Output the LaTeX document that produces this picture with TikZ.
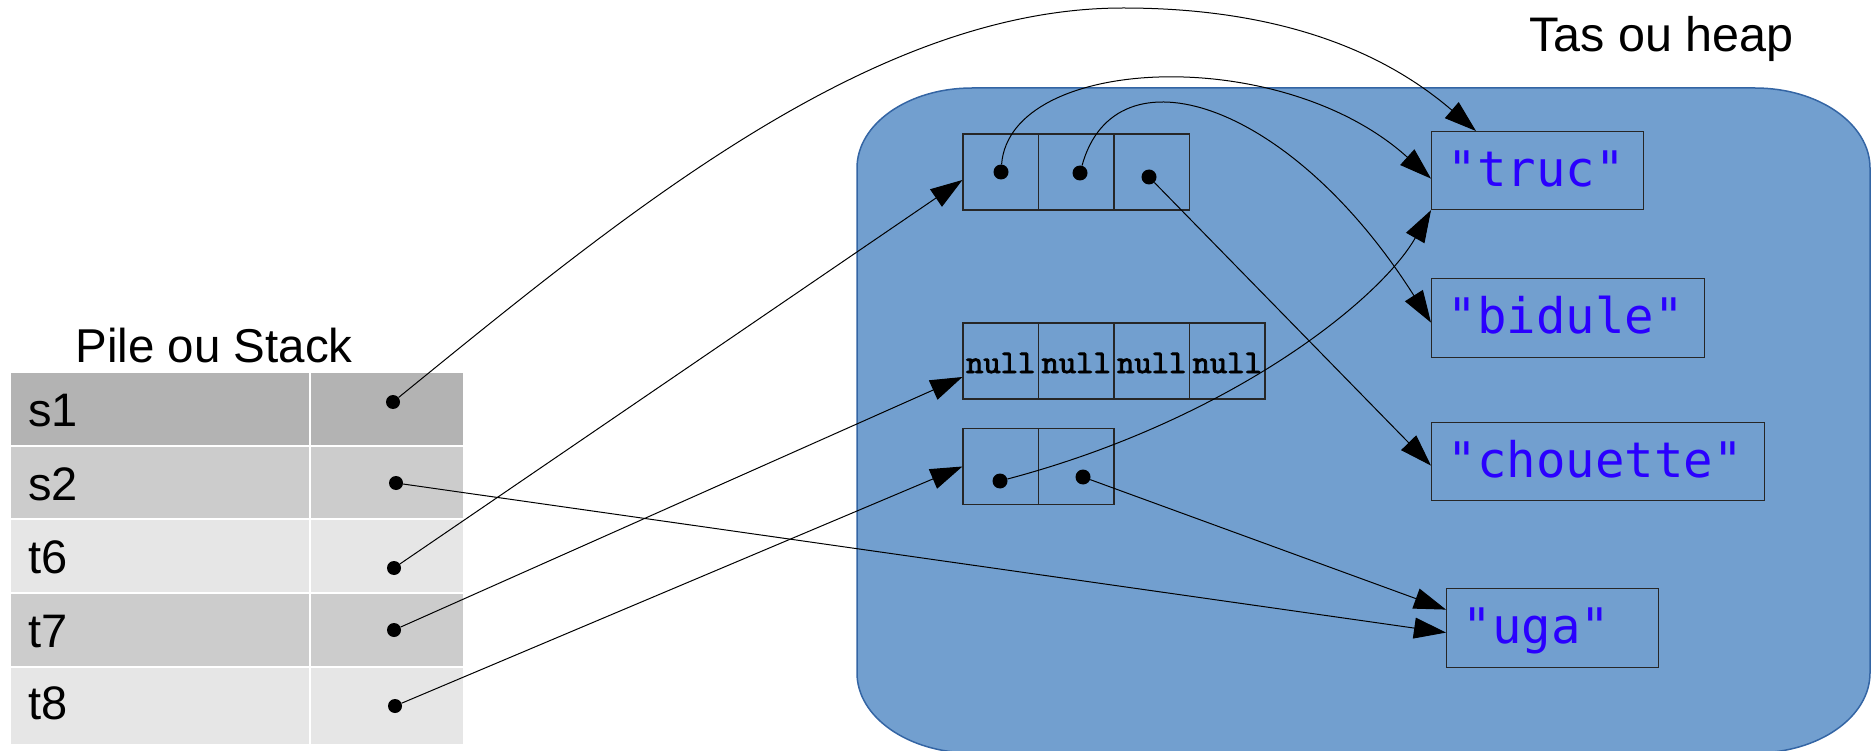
\documentclass[tikz,border=0pt]{standalone}
\usepackage{fontspec}
\setmainfont{Liberation Sans}
\newfontfamily\strfont{DejaVu Sans Mono}
\newfontfamily\nulfont{lmmono10-regular}[Extension=.otf, FakeBold=2.5]
\usetikzlibrary{arrows.meta,calc}
\definecolor{heapfill}{RGB}{114,159,207}
\definecolor{heapline}{RGB}{52,101,164}
\definecolor{strblue}{RGB}{42,0,255}
\definecolor{gA}{RGB}{179,179,179}
\definecolor{gB}{RGB}{204,204,204}
\definecolor{gC}{RGB}{230,230,230}
\tikzset{
  cellbox/.style={draw=black!85, line width=1.2pt, minimum width=75.5pt, minimum height=76pt, inner sep=0pt},
  nullcell/.style={cellbox, font=\nulfont\bfseries\fontsize{33}{35}\selectfont, text height=24pt, text depth=0pt},
  strbox/.style={draw=black!85, line width=1.2pt, anchor=north west, inner xsep=16pt, inner ysep=0pt,
    text height=33pt, text depth=2pt, align=left, text=strblue, font=\strfont\fontsize{49}{55}\selectfont},
  dotnode/.style={circle, fill=black, inner sep=0pt, minimum size=15pt},
  sdot/.style={circle, fill=black, inner sep=0pt, minimum size=14pt},
  stacklbl/.style={anchor=base west, inner sep=0pt, font=\fontsize{47}{52}\selectfont},
  titlelbl/.style={inner sep=0pt},
  conn/.style={draw, line width=1pt, -{Triangle[length=32pt,width=21pt]}}
}
\begin{document}
\begin{tikzpicture}[x=1pt,y=-1pt]
\useasboundingbox (0,0) rectangle (1874,751);
% heap
\path[fill=heapfill, draw=heapline, line width=1.5pt]
  (972,88) -- (1755,88) .. controls (1818.5,88) and (1870,123.8) .. (1870,168)
  -- (1870,673) .. controls (1870,717.2) and (1818.5,753) .. (1755,753)
  -- (972,753) .. controls (908.5,753) and (857,717.2) .. (857,673)
  -- (857,168) .. controls (857,123.8) and (908.5,88) .. (972,88) -- cycle;
\node[titlelbl, anchor=base west, font=\fontsize{48.5}{54}\selectfont] (heaptitle) at (1529,52) {Tas ou heap};
% stack
\node[titlelbl, anchor=base, font=\fontsize{47.5}{53}\selectfont] (stacktitle) at (214,362) {Pile ou Stack};
\fill[gA] (11,373) rectangle (463,446);
\fill[gB] (11,446) rectangle (463,519);
\fill[gC] (11,519) rectangle (463,593);
\fill[gB] (11,593) rectangle (463,667);
\fill[gC] (11,667) rectangle (463,744);
\draw[white, line width=2pt] (11,446) -- (463,446) (11,519) -- (463,519) (11,593) -- (463,593) (11,667) -- (463,667) (310,373) -- (310,744);
\node[stacklbl] (ls1) at (28,426) {s1};
\node[stacklbl] (ls2) at (28,500) {s2};
\node[stacklbl] (lt6) at (28,573) {t6};
\node[stacklbl] (lt7) at (28,647) {t7};
\node[stacklbl] (lt8) at (28,719) {t8};
% heap arrays
\node[cellbox] (a1) at (1000.75,172) {};
\node[cellbox] (a2) at (1076.25,172) {};
\node[cellbox] (a3) at (1151.75,172) {};
\node[nullcell] (n1) at (1000.75,361) {null};
\node[nullcell] (n2) at (1076.25,361) {null};
\node[nullcell] (n3) at (1151.75,361) {null};
\node[nullcell] (n4) at (1227.25,361) {null};
\node[cellbox] (b1) at (1000.75,466.5) {};
\node[cellbox] (b2) at (1076.25,466.5) {};
% strings
\node[strbox, minimum width=212pt, minimum height=78pt, text width=180pt] (truc) at (1431,131) {"truc"};
\node[strbox, minimum width=273pt, minimum height=79pt, text width=241pt] (bidule) at (1431,278) {"bidule"};
\node[strbox, minimum width=333pt, minimum height=78pt, text width=301pt] (chouette) at (1431,422) {"chouette"};
\node[strbox, minimum width=212pt, minimum height=79pt, text width=180pt] (uga) at (1446,588) {"uga"};
% dots
\node[sdot] (ds1) at (393,402) {};
\node[sdot] (ds2) at (396,483) {};
\node[sdot] (dt6) at (394,568) {};
\node[sdot] (dt7) at (394,630) {};
\node[sdot] (dt8) at (395,706) {};
\node[dotnode] (da1) at (1001,172) {};
\node[dotnode] (da2) at (1080,173) {};
\node[dotnode] (da3) at (1149,177) {};
\node[dotnode] (db1) at (1000,481) {};
\node[dotnode] (db2) at (1083,477) {};
% connectors
\draw[conn] (ds1) .. controls (628,211) and (873,8) .. (1123,8) .. controls (1253,8) and (1368,38) .. ($(truc.north west)+(45,0)$);
\draw[conn] (da1) .. controls (1010,55) and (1281,43) .. ($(truc.west)+(0,8)$);
\draw[conn] (da2) .. controls (1115,45) and (1290,100) .. ($(bidule.west)+(0,4.5)$);
\draw[conn] (da3) -- ($(chouette.west)+(0,4)$);
\draw[conn] (db1) .. controls (1230,420) and (1380,300) .. (truc.south west);
\draw[conn] (db2) -- ($(uga.west)+(0,-18.5)$);
\draw[conn] (ds2) -- ($(uga.west)+(0,4.5)$);
\draw[conn] (dt6) -- ($(a1.west)+(0,8)$);
\draw[conn] (dt7) -- ($(n1.west)+(0,16)$);
\draw[conn] (dt8) -- (b1.west);
\end{tikzpicture}
\end{document}
